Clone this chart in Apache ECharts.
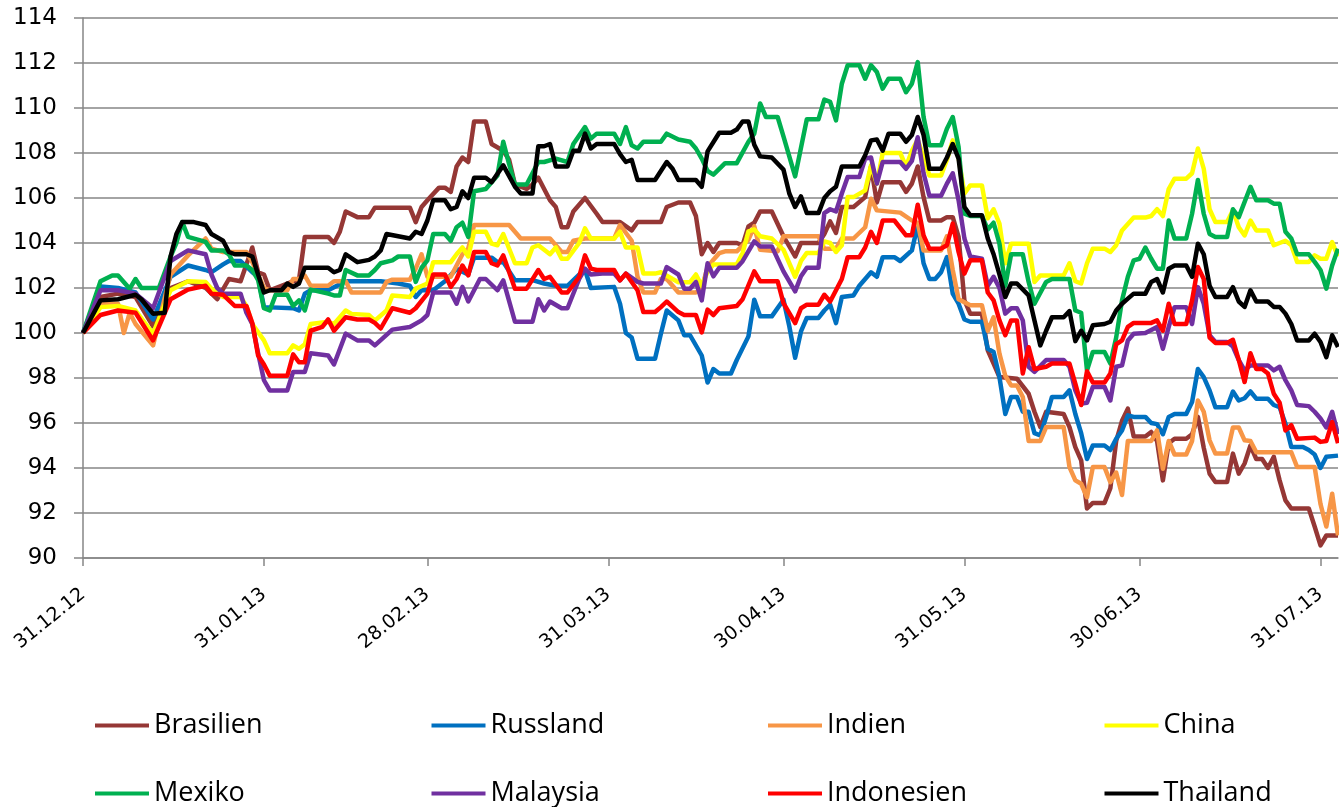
<!DOCTYPE html>
<html>
<head>
<meta charset="utf-8">
<script src="https://cdn.jsdelivr.net/npm/echarts@6/dist/echarts.min.js"></script>
<style>
html,body{margin:0;padding:0;background:#fff;}
#chart{width:1339px;height:807px;}
</style>
</head>
<body>
<div id="chart"></div>
<script>
// Day offsets from 31.12.2012 and index values
const xTickDays = [0, 31, 59, 90, 120, 151, 181, 212];
const xTickLabels = ['31.12.12', '31.01.13', '28.02.13', '31.03.13', '30.04.13', '31.05.13', '30.06.13', '31.07.13'];
const seriesNames = ['Brasilien', 'Russland', 'Indien', 'China', 'Mexiko', 'Malaysia', 'Indonesien', 'Thailand'];

const brasilien = [[0,100],[3,101.6],[6,101.75],[9,101.6],[12,100.3],[15,102.0],[18,102.3],[21,102.0],[23,101.5],[25,102.4],[27,102.3],[29,103.8],[30,102.7],[31,102.6],[32,101.9],[36,102.3],[37,102.35],[38,104.27],[42,104.27],[43,104.0],[44,104.5],[45,105.4],[47,105.15],[49,105.15],[50,105.57],[56,105.57],[57,104.93],[58,105.6],[59,105.9],[61,106.46],[62,106.46],[63,106.27],[64,107.4],[65,107.8],[66,107.6],[67,109.4],[69,109.4],[70,108.4],[72,108.1],[73,107.7],[74,106.6],[76,106.4],[77,106.6],[78,106.9],[80,105.9],[81,105.6],[82,104.7],[83,104.7],[84,105.4],[86,106.0],[88,105.3],[89,104.93],[92,104.93],[94,104.56],[95,104.93],[99,104.93],[100,105.6],[102,105.8],[104,105.8],[105,105.2],[106,103.5],[107,104.0],[108,103.6],[109,104.0],[112,104.0],[113,103.9],[114,104.74],[115,104.9],[116,105.4],[118,105.4],[120,104.3],[122,103.4],[123,104.0],[126,104.0],[127,104.4],[128,104.96],[129,104.45],[130,105.6],[132,105.6],[134,106.04],[135,107.4],[136,105.8],[137,106.7],[140,106.7],[141,106.27],[142,106.64],[143,107.4],[144,106.04],[145,105.0],[147,105.0],[148,105.15],[149,105.15],[150,104.27],[151,101.45],[152,100.86],[154,100.86],[155,99.23],[156,98.64],[157,98.04],[160,97.97],[162,97.3],[163,96.5],[164,95.82],[165,96.5],[168,96.4],[169,95.82],[170,94.93],[171,94.34],[172,92.2],[173,92.45],[175,92.45],[176,93.1],[177,95.2],[178,96.1],[179,96.64],[180,95.4],[182,95.4],[183,95.6],[184,95.2],[185,93.45],[186,95.1],[187,95.3],[189,95.3],[190,95.5],[191,96.27],[192,94.9],[193,93.75],[194,93.38],[196,93.38],[197,94.64],[198,93.75],[199,94.2],[200,95.0],[201,94.4],[202,94.4],[203,94.0],[204,94.5],[205,93.45],[206,92.56],[207,92.2],[210,92.2],[211,91.4],[212,90.56],[213,91.0],[215,91.0]];

const russland = [[0,100],[3,102.07],[6,102.0],[9,101.8],[12,100.6],[15,102.5],[18,103.0],[21,102.8],[22,102.7],[24,103.05],[25,103.2],[27,103.2],[29,102.7],[30,102.5],[31,101.15],[36,101.1],[37,101.0],[38,101.75],[39,101.9],[42,101.9],[45,102.3],[48,102.3],[51,102.3],[54,102.2],[56,102.1],[57,101.6],[58,101.9],[60,101.9],[62,102.3],[64,102.85],[66,102.6],[67,103.35],[70,103.35],[71,103.15],[72,103.15],[74,102.35],[77,102.35],[79,102.2],[81,102.1],[83,102.1],[85,102.6],[86,102.8],[87,102.0],[91,102.05],[92,101.3],[93,100.0],[94,99.8],[95,98.86],[98,98.86],[99,99.97],[100,101.0],[102,100.56],[103,99.9],[104,99.9],[106,99.0],[107,97.8],[108,98.4],[109,98.2],[111,98.2],[112,98.8],[114,99.85],[115,101.48],[116,100.74],[118,100.74],[120,101.48],[121,100.3],[122,98.9],[123,100.07],[124,100.67],[126,100.67],[127,101.0],[128,101.26],[129,100.44],[130,101.6],[132,101.67],[133,102.1],[135,102.7],[136,102.5],[137,103.37],[139,103.37],[140,103.2],[142,103.67],[143,104.8],[144,103.1],[145,102.4],[146,102.4],[147,102.7],[148,103.37],[149,101.75],[150,101.3],[151,100.6],[152,100.5],[154,100.5],[155,99.3],[156,99.16],[157,98.04],[158,96.4],[159,97.16],[160,97.16],[161,96.5],[162,96.5],[163,95.55],[164,95.45],[165,96.27],[166,97.16],[168,97.16],[169,97.45],[170,96.4],[171,95.55],[172,94.4],[173,95.0],[175,95.0],[176,94.8],[177,95.3],[178,95.67],[179,96.34],[180,96.27],[182,96.27],[183,96.0],[184,95.95],[185,95.5],[186,96.27],[187,96.4],[189,96.4],[190,96.93],[191,98.4],[192,98.04],[193,97.45],[194,96.7],[196,96.7],[197,97.4],[198,97.0],[199,97.1],[200,97.4],[201,97.08],[203,97.08],[204,96.8],[205,96.7],[206,95.97],[207,94.93],[209,94.93],[210,94.8],[211,94.6],[212,94.0],[213,94.5],[215,94.55]];

const indien = [[0,100],[3,101.3],[6,101.3],[7,100.0],[8,100.9],[9,100.4],[12,99.45],[15,102.6],[18,103.45],[21,104.2],[22,103.75],[24,103.6],[28,103.6],[29,103.15],[30,102.6],[31,102.0],[32,101.9],[35,101.9],[36,102.4],[37,102.4],[38,102.55],[39,102.1],[42,102.1],[43,102.3],[45,102.3],[46,101.8],[51,101.8],[52,102.27],[53,102.37],[56,102.37],[57,102.86],[58,103.5],[59,102.5],[63,102.5],[64,103.0],[65,103.5],[66,103.75],[67,104.8],[73,104.8],[75,104.2],[80,104.2],[82,103.6],[83,103.6],[84,104.1],[86,104.2],[91,104.2],[92,104.8],[94,104.1],[95,102.5],[96,101.8],[98,101.8],[99,102.4],[100,102.4],[102,101.8],[105,101.8],[106,102.0],[107,102.93],[108,103.26],[109,103.55],[110,103.63],[112,103.63],[114,104.15],[115,104.74],[116,103.7],[119,103.63],[120,104.3],[126,104.3],[127,103.75],[129,103.75],[130,104.2],[132,104.2],[134,104.7],[135,105.97],[136,105.45],[140,105.35],[142,105.0],[143,104.9],[144,103.67],[147,103.67],[148,104.3],[149,102.8],[150,101.5],[152,101.23],[154,101.23],[155,100.1],[156,100.7],[157,99.08],[158,98.1],[159,97.67],[160,97.67],[161,97.16],[162,95.2],[164,95.2],[165,95.82],[168,95.82],[169,94.04],[170,93.45],[171,93.3],[172,92.7],[173,94.04],[175,94.04],[176,93.37],[177,93.8],[178,92.8],[179,95.2],[183,95.2],[184,95.67],[185,93.97],[186,95.2],[187,94.6],[189,94.6],[190,95.2],[191,97.0],[192,96.5],[193,95.23],[194,94.64],[196,94.64],[197,95.8],[198,95.8],[199,95.23],[200,95.2],[201,94.7],[207,94.7],[208,94.04],[211,94.04],[212,92.4],[213,91.4],[214,92.86],[215,91.0]];

const china = [[0,100],[3,101.15],[6,101.2],[9,101.0],[12,99.97],[15,101.9],[18,102.3],[21,102.27],[22,101.97],[24,101.6],[27,101.6],[28,101.2],[29,100.4],[31,99.67],[32,99.1],[35,99.1],[36,99.45],[37,99.3],[38,99.5],[39,100.4],[42,100.5],[43,100.4],[45,101.0],[46,100.85],[49,100.8],[50,100.55],[52,101.0],[53,101.67],[56,101.6],[57,101.97],[59,102.2],[60,103.15],[63,103.15],[64,103.5],[65,103.8],[66,103.4],[67,104.5],[69,104.5],[70,103.97],[71,103.9],[72,104.4],[74,103.1],[76,103.1],[77,103.8],[78,103.9],[80,103.5],[81,103.8],[82,103.3],[83,103.3],[85,104.0],[86,104.65],[87,104.2],[91,104.2],[92,104.5],[93,103.8],[95,103.8],[96,102.64],[98,102.64],[99,102.7],[101,102.4],[102,102.26],[104,102.26],[105,102.6],[106,102.1],[107,102.74],[108,103.04],[112,103.04],[113,103.56],[114,104.52],[115,104.6],[116,104.3],[118,104.2],[120,103.7],[121,103.1],[122,102.5],[123,103.2],[124,103.56],[126,103.56],[127,104.07],[128,104.0],[129,103.6],[130,103.9],[131,106.04],[132,106.04],[134,106.34],[135,107.45],[136,106.64],[137,108.0],[140,108.0],[141,107.4],[142,108.1],[143,108.6],[144,107.8],[145,107.0],[147,107.0],[148,107.7],[149,108.56],[150,107.8],[151,106.2],[152,106.56],[154,106.56],[155,105.1],[156,105.5],[157,104.86],[158,103.1],[159,103.97],[162,103.97],[163,102.27],[164,102.56],[168,102.56],[169,103.1],[170,102.3],[171,102.2],[172,103.1],[173,103.75],[175,103.75],[176,103.6],[177,103.9],[178,104.56],[180,105.13],[182,105.13],[183,105.2],[184,105.5],[185,105.2],[186,106.4],[187,106.86],[189,106.86],[190,107.1],[191,108.2],[192,107.3],[193,105.5],[194,104.93],[196,104.93],[197,105.45],[198,104.7],[199,104.34],[200,105.0],[201,104.56],[203,104.56],[204,103.9],[206,104.1],[207,103.9],[208,103.16],[210,103.16],[211,103.45],[212,103.3],[213,103.3],[214,104.04],[215,103.4]];

const mexiko = [[0,100],[3,102.3],[5,102.56],[6,102.56],[8,101.97],[9,102.4],[10,102.0],[13,102.0],[15,103.4],[16,104.0],[17,104.93],[18,104.27],[21,104.05],[22,103.67],[24,103.67],[25,103.5],[26,103.0],[28,103.0],[29,102.8],[30,102.35],[31,101.1],[32,101.0],[33,101.7],[35,101.7],[36,101.2],[37,101.45],[38,101.0],[39,101.93],[42,101.75],[43,101.67],[44,101.67],[45,102.8],[47,102.56],[49,102.56],[50,102.8],[51,103.1],[53,103.23],[54,103.4],[56,103.4],[57,102.27],[58,102.9],[59,103.23],[60,104.4],[62,104.4],[63,104.1],[64,104.7],[65,104.9],[66,104.27],[67,106.3],[69,106.4],[71,107.0],[72,108.5],[73,107.5],[74,106.6],[76,106.6],[78,107.6],[79,107.6],[81,107.75],[83,107.6],[84,108.4],[86,109.15],[87,108.64],[88,108.86],[91,108.86],[92,108.4],[93,109.15],[94,108.34],[95,108.2],[96,108.5],[99,108.5],[100,108.86],[102,108.6],[104,108.5],[105,108.2],[106,107.75],[107,107.2],[108,107.04],[110,107.55],[112,107.55],[114,108.5],[115,108.86],[116,110.2],[117,109.6],[119,109.6],[120,108.74],[122,106.96],[124,109.5],[126,109.5],[127,110.37],[128,110.27],[129,109.45],[130,111.08],[131,111.9],[133,111.9],[134,111.3],[135,111.9],[136,111.6],[137,110.86],[138,111.3],[140,111.3],[141,110.7],[142,111.08],[143,112.04],[144,109.6],[145,108.34],[147,108.34],[148,109.08],[149,109.6],[150,108.27],[151,105.3],[152,105.2],[154,105.2],[155,104.6],[156,104.9],[157,103.97],[158,102.1],[159,103.5],[161,103.5],[162,102.27],[163,101.3],[165,102.27],[166,102.4],[169,102.4],[170,101.0],[171,100.9],[172,98.34],[173,99.16],[175,99.16],[176,98.64],[177,99.8],[178,101.45],[179,102.5],[180,103.23],[181,103.3],[182,103.8],[183,103.3],[184,102.86],[185,102.86],[186,105.0],[187,104.2],[189,104.2],[190,105.3],[191,106.8],[192,105.3],[193,104.4],[194,104.27],[196,104.27],[197,105.5],[198,105.15],[200,106.5],[201,105.9],[203,105.9],[204,105.75],[205,105.75],[206,104.5],[207,104.2],[208,103.5],[210,103.5],[211,103.16],[212,102.8],[213,101.97],[214,103.0],[215,103.75]];

const malaysia = [[0,100],[3,101.9],[6,101.9],[9,101.75],[12,101.1],[15,103.2],[18,103.67],[21,103.5],[22,102.6],[23,102.0],[24,101.75],[27,101.75],[28,100.9],[29,100.4],[30,99.1],[31,97.9],[32,97.45],[35,97.45],[36,98.27],[38,98.27],[39,99.1],[42,99.0],[43,98.6],[45,99.97],[47,99.67],[49,99.67],[50,99.45],[53,100.15],[56,100.27],[58,100.56],[59,100.8],[60,101.8],[63,101.8],[64,101.3],[65,102.05],[66,101.4],[68,102.4],[69,102.4],[71,101.9],[72,102.34],[74,100.5],[77,100.5],[78,101.5],[79,101.0],[80,101.4],[82,101.1],[83,101.1],[85,102.4],[86,102.86],[87,102.6],[89,102.64],[91,102.64],[92,102.34],[93,102.64],[95,102.27],[96,102.2],[99,102.2],[100,102.93],[102,102.6],[103,101.97],[104,101.97],[105,102.27],[106,101.45],[107,103.1],[108,102.52],[109,102.9],[112,102.9],[113,103.19],[115,104.07],[116,103.85],[118,103.85],[120,102.74],[122,101.85],[123,102.52],[124,102.9],[126,102.9],[127,105.33],[128,105.5],[129,105.4],[130,106.2],[131,106.93],[133,106.93],[134,107.75],[135,107.8],[136,106.64],[137,107.6],[140,107.6],[141,107.3],[142,107.65],[143,108.7],[144,107.1],[145,106.1],[147,106.1],[148,106.64],[149,107.1],[150,105.9],[151,104.2],[152,103.4],[154,103.3],[155,102.1],[156,102.5],[157,102.0],[158,100.86],[159,101.1],[160,101.1],[161,100.56],[162,98.5],[163,98.27],[165,98.8],[168,98.8],[169,98.5],[170,97.45],[171,96.86],[172,96.9],[173,97.6],[175,97.6],[176,97.0],[177,98.5],[178,98.56],[179,99.67],[180,99.97],[182,100.0],[184,100.27],[185,99.3],[186,100.27],[187,101.15],[189,101.15],[190,100.4],[191,102.04],[192,101.3],[193,99.9],[194,99.6],[196,99.6],[197,99.4],[198,98.8],[199,98.34],[200,98.56],[203,98.56],[204,98.34],[205,98.5],[206,97.9],[207,97.45],[208,96.8],[210,96.75],[211,96.5],[212,96.2],[213,95.8],[214,96.5],[215,95.5]];

const indonesien = [[0,100],[3,100.8],[6,101.0],[9,100.9],[12,99.67],[15,101.5],[18,101.93],[21,102.1],[22,101.75],[24,101.7],[25,101.45],[26,101.2],[28,101.2],[29,100.45],[30,99.0],[31,98.6],[32,98.1],[35,98.1],[36,99.05],[37,98.7],[38,98.7],[39,100.1],[41,100.27],[42,100.6],[43,100.1],[45,100.7],[47,100.6],[49,100.6],[50,100.45],[51,100.2],[53,101.1],[56,100.9],[57,101.1],[59,101.75],[60,102.6],[62,102.6],[63,102.05],[64,102.4],[65,103.0],[66,102.56],[67,103.6],[69,103.6],[70,103.1],[71,103.0],[72,103.45],[74,101.97],[76,101.97],[78,102.8],[79,102.4],[80,102.5],[82,101.8],[83,101.8],[85,102.5],[86,103.45],[87,102.86],[88,102.8],[91,102.8],[92,102.34],[93,102.64],[94,102.27],[95,101.9],[96,100.93],[98,100.93],[99,101.15],[100,101.4],[102,100.93],[103,100.8],[105,100.8],[106,100.03],[107,101.04],[108,100.8],[109,101.1],[112,101.2],[113,101.5],[115,102.74],[116,102.3],[119,102.3],[120,101.33],[122,100.44],[123,101.1],[124,101.26],[126,101.26],[127,101.7],[128,101.4],[129,101.9],[130,102.4],[131,103.37],[133,103.37],[134,103.8],[135,104.5],[136,104.0],[137,105.0],[139,105.0],[141,104.34],[142,104.34],[143,105.7],[144,104.34],[145,103.75],[147,103.75],[148,103.9],[149,104.86],[150,103.6],[151,102.64],[152,103.23],[154,103.23],[155,101.8],[156,101.45],[157,100.56],[158,99.9],[159,100.56],[160,100.56],[161,98.2],[162,99.37],[163,98.4],[165,98.5],[166,98.64],[169,98.64],[170,97.75],[171,96.8],[172,98.3],[173,97.8],[175,97.8],[176,98.2],[177,99.5],[178,99.67],[179,100.27],[180,100.45],[183,100.45],[184,100.56],[185,100.1],[186,101.3],[187,100.4],[189,100.4],[190,101.45],[191,102.93],[192,102.4],[193,99.8],[194,99.56],[196,99.56],[197,99.7],[198,98.8],[199,97.82],[200,99.1],[201,98.4],[202,98.4],[203,98.2],[204,97.3],[205,96.9],[206,95.67],[207,95.9],[208,95.3],[211,95.35],[212,95.16],[213,95.2],[214,96.04],[215,95.1]];

const thailand = [[0,100],[3,101.45],[6,101.5],[9,101.7],[10,101.5],[12,100.86],[14,100.9],[15,103.4],[16,104.4],[17,104.93],[19,104.93],[21,104.8],[22,104.4],[24,104.1],[25,103.6],[26,103.5],[28,103.5],[29,103.4],[30,102.6],[31,101.8],[32,101.9],[34,101.9],[35,102.2],[36,102.05],[37,102.2],[38,102.9],[42,102.9],[43,102.7],[44,102.8],[45,103.5],[47,103.15],[49,103.25],[50,103.4],[51,103.67],[52,104.4],[56,104.2],[57,104.5],[58,104.4],[59,105.0],[60,105.9],[62,105.9],[63,105.5],[64,105.6],[65,106.3],[66,106.0],[67,106.9],[69,106.9],[70,106.7],[72,107.45],[74,106.5],[75,106.2],[77,106.2],[78,108.3],[79,108.3],[80,108.4],[81,107.4],[83,107.4],[84,108.1],[85,108.1],[86,108.86],[87,108.2],[88,108.4],[91,108.4],[92,107.95],[93,107.6],[94,107.7],[95,106.8],[98,106.8],[100,107.6],[101,107.3],[102,106.8],[105,106.8],[106,106.5],[107,108.07],[109,108.9],[111,108.9],[112,109.04],[113,109.4],[114,109.4],[115,108.37],[116,107.85],[118,107.8],[120,107.26],[121,106.2],[122,105.6],[123,106.07],[124,105.33],[126,105.33],[127,106.0],[128,106.3],[129,106.5],[130,107.4],[133,107.4],[134,107.9],[135,108.56],[136,108.6],[137,108.1],[138,108.86],[140,108.86],[141,108.5],[142,108.8],[143,109.6],[144,108.8],[145,107.3],[147,107.3],[148,107.8],[149,108.4],[150,107.75],[151,105.6],[152,105.23],[154,105.23],[155,104.2],[156,103.5],[157,102.6],[158,101.6],[159,102.2],[160,102.2],[162,101.67],[163,100.56],[164,99.45],[165,100.1],[166,100.7],[168,100.7],[169,100.97],[170,99.64],[171,100.1],[172,99.67],[173,100.34],[175,100.4],[176,100.5],[177,101.0],[178,101.3],[179,101.53],[180,101.75],[182,101.75],[183,102.27],[184,102.4],[185,101.8],[186,102.86],[187,103.0],[189,103.0],[190,102.5],[191,103.97],[192,103.5],[193,102.1],[194,101.6],[196,101.6],[197,102.04],[198,101.4],[199,101.16],[200,101.9],[201,101.4],[203,101.4],[204,101.16],[205,101.16],[206,100.86],[207,100.4],[208,99.67],[210,99.67],[211,99.97],[212,99.6],[213,98.93],[214,99.9],[215,99.38]];

const seriesData = [brasilien, russland, indien, china, mexiko, malaysia, indonesien, thailand];
const seriesColors = ['#953735', '#0070C0', '#F79646', '#FFFF00', '#00B050', '#7030A0', '#FF0000', '#000000'];

const FONT = 'Open Sans';
const AXFONT = 'DejaVu Sans';
const chart = echarts.init(document.getElementById('chart'), null, {renderer: 'canvas'});

const legends = seriesNames.map((name, i) => ({
  show: true,
  data: [name],
  left: 95 + (i % 4) * 336.5,
  top: i < 4 ? 712 : 780,
  padding: 0,
  icon: 'rect',
  itemWidth: 54,
  itemHeight: 4,
  itemGap: 0,
  textStyle: {fontFamily: FONT, fontSize: 27, color: '#000'},
  selectedMode: false
}));

chart.setOption({
  animation: false,
  backgroundColor: '#fff',
  textStyle: {fontFamily: FONT},
  grid: {left: 83, right: 1, top: 18, bottom: 249, containLabel: false},
  legend: legends,
  xAxis: {
    type: 'value', min: 0, max: 215,
    splitLine: {show: false},
    axisLine: {show: true, lineStyle: {color: '#868686', width: 1.5}},
    axisTick: {show: true, customValues: xTickDays, length: 8, lineStyle: {color: '#868686', width: 1.5}},
    axisLabel: {
      customValues: xTickDays,
      rotate: 39, margin: 34, fontSize: 19, color: '#000', fontFamily: AXFONT,
      formatter: v => { const k = xTickDays.indexOf(Math.round(v)); return k >= 0 ? xTickLabels[k] : ''; }
    }
  },
  yAxis: {
    type: 'value', min: 90, max: 114, interval: 2,
    axisLine: {show: true, lineStyle: {color: '#868686', width: 1.5}},
    axisTick: {show: true, length: 9, lineStyle: {color: '#868686', width: 1.5}},
    splitLine: {show: true, lineStyle: {color: '#868686', width: 1.5}},
    axisLabel: {fontSize: 23, color: '#000', margin: 26, fontFamily: AXFONT}
  },
  series: seriesNames.map((name, i) => ({
    name: name, type: 'line', data: seriesData[i],
    showSymbol: false, symbol: 'none', clip: true,
    color: seriesColors[i],
    lineStyle: {width: 4.5, color: seriesColors[i], join: 'round'},
    z: 2 + i
  }))
});
</script>
</body>
</html>
